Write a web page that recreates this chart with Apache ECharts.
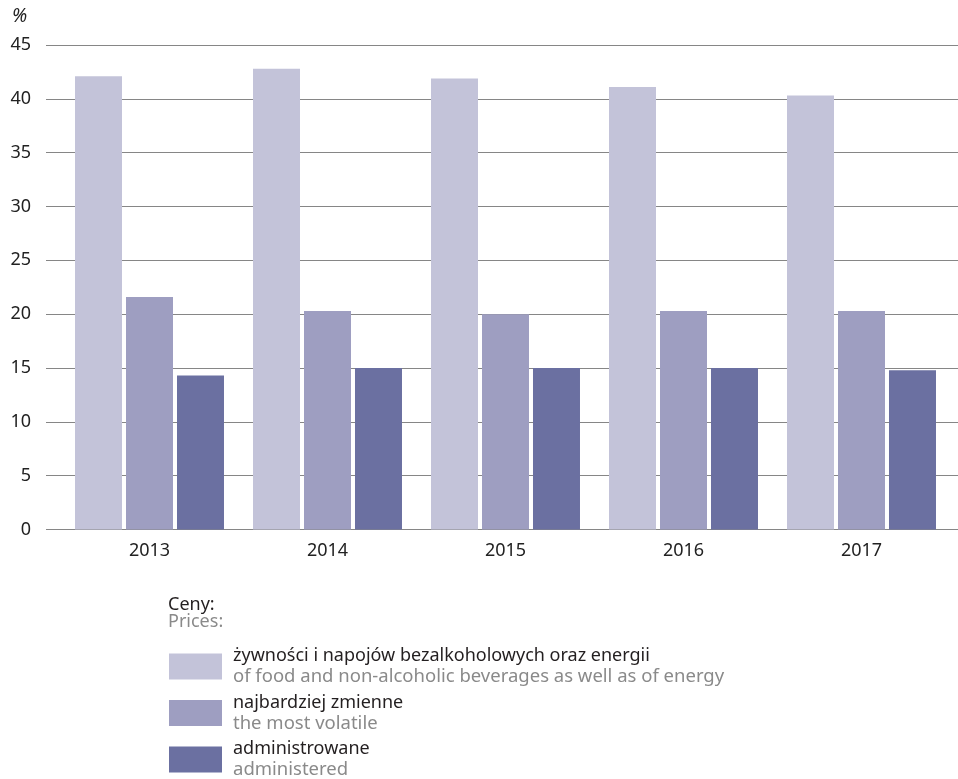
<!DOCTYPE html>
<html>
<head>
<meta charset="utf-8">
<script src="https://cdn.jsdelivr.net/npm/echarts@6/dist/echarts.min.js"></script>
<style>
html,body{margin:0;padding:0;background:#fff;}
#chart{width:958px;height:779px;}
</style>
</head>
<body>
<div id="chart"></div>
<script>
var years = ['2013', '2014', '2015', '2016', '2017'];
var foodEnergy = [42.1, 42.8, 41.9, 41.1, 40.3];
var mostVolatile = [21.6, 20.3, 20.0, 20.3, 20.3];
var administered = [14.3, 15.0, 15.0, 15.0, 14.8];
var seriesNamesPl = ['żywności i napojów bezalkoholowych oraz energii', 'najbardziej zmienne', 'administrowane'];
var seriesNamesEn = ['of food and non-alcoholic beverages as well as of energy', 'the most volatile', 'administered'];
var yTicks = [0, 5, 10, 15, 20, 25, 30, 35, 40, 45];

var colors = ['#c3c3d9', '#9e9ec1', '#6b70a1'];
var FONT = 'Noto Sans';
var enByPl = {};
seriesNamesPl.forEach(function (n, i) { enByPl[n] = seriesNamesEn[i]; });

var chart = echarts.init(document.getElementById('chart'));
var data = [foodEnergy, mostVolatile, administered];

var option = {
  animation: false,
  textStyle: { fontFamily: FONT },
  grid: [
    { left: 46, right: 0, top: 45, bottom: 249.5 },
    { left: 60.5, right: 7.5, top: 45, bottom: 249.5 }
  ],
  xAxis: [
    { type: 'value', gridIndex: 0, show: false, min: 0, max: 1 },
    {
      type: 'category', gridIndex: 1, data: years,
      axisLine: { show: false }, axisTick: { show: false },
      axisLabel: { fontSize: 18, color: '#222', margin: 12, fontFamily: FONT }
    }
  ],
  yAxis: [
    {
      type: 'value', gridIndex: 0, min: yTicks[0], max: yTicks[yTicks.length - 1], interval: yTicks[1] - yTicks[0],
      axisLine: { show: false }, axisTick: { show: false },
      axisLabel: { fontSize: 18, color: '#222', margin: 15, fontFamily: FONT },
      splitLine: { show: true, lineStyle: { color: '#868686', width: 1 } }
    },
    {
      type: 'value', gridIndex: 1, min: yTicks[0], max: yTicks[yTicks.length - 1], interval: yTicks[1] - yTicks[0],
      show: false, splitLine: { show: false }
    }
  ],
  legend: {
    orient: 'vertical',
    left: 169, top: 647,
    width: 700, height: 300,
    padding: 0,
    itemWidth: 53, itemHeight: 26, itemGap: 7,
    icon: 'rect',
    data: seriesNamesPl,
    formatter: function (name) {
      return '{a|' + name + '}\n{b|' + enByPl[name] + '}';
    },
    textStyle: {
      fontFamily: FONT,
      padding: [0, 0, 0, 6],
      rich: {
        a: { fontSize: 18, color: '#231f20', lineHeight: 21, fontFamily: FONT },
        b: { fontSize: 18.5, color: '#8a8a8a', lineHeight: 21, fontFamily: FONT }
      }
    }
  },
  graphic: [
    { type: 'text', left: 12, top: 7, style: { text: '%', fontSize: 19, fill: '#222', fontFamily: FONT, fontStyle: 'italic' } },
    { type: 'text', left: 168, top: 596, style: { text: 'Ceny:', fontSize: 18, fill: '#231f20', fontFamily: FONT } },
    { type: 'text', left: 168, top: 613, style: { text: 'Prices:', fontSize: 18, fill: '#8a8a8a', fontFamily: FONT } }
  ],
  series: data.map(function (d, i) {
    return {
      name: seriesNamesPl[i],
      type: 'bar',
      xAxisIndex: 1, yAxisIndex: 1,
      data: d,
      barWidth: 47,
      barGap: '8.5%',
      itemStyle: { color: colors[i] }
    };
  })
};
chart.setOption(option);
</script>
</body>
</html>
